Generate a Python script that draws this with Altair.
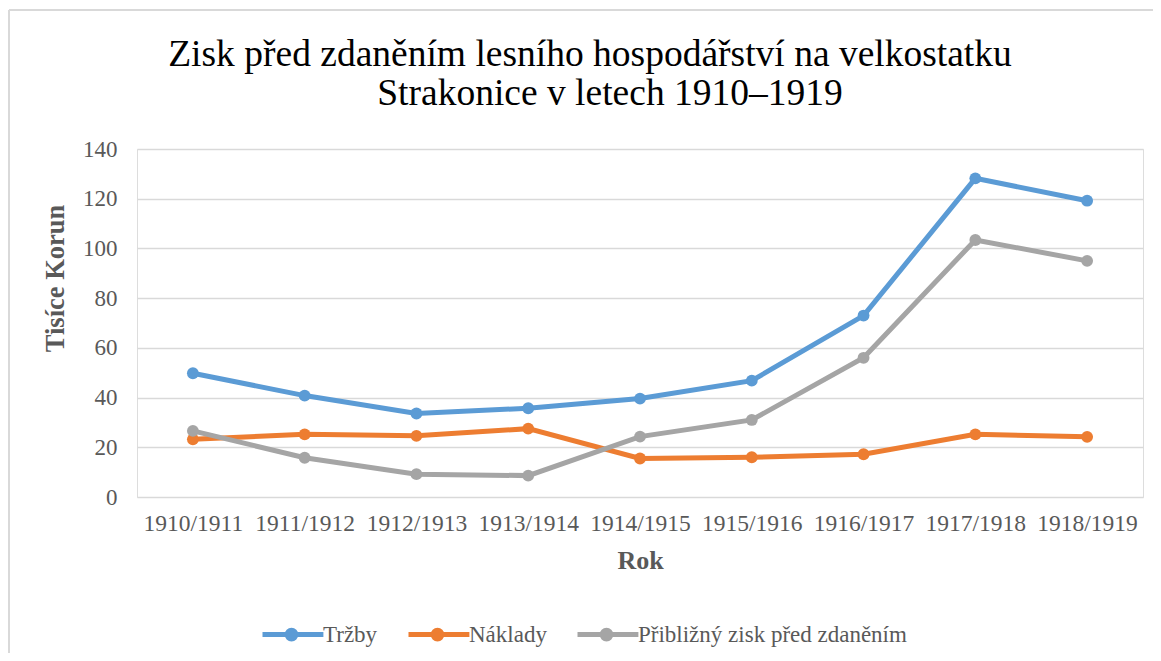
import altair as alt
import pandas as pd

years = ["1910/1911", "1911/1912", "1912/1913", "1913/1914", "1914/1915",
         "1915/1916", "1916/1917", "1917/1918", "1918/1919"]
trzby = [49.8, 40.8, 33.6, 35.7, 39.6, 46.8, 73.0, 128.2, 119.2]
naklady = [23.2, 25.2, 24.6, 27.5, 15.5, 16.0, 17.2, 25.2, 24.2]
zisk = [26.6, 15.8, 9.2, 8.6, 24.3, 31.0, 56.0, 103.4, 95.0]

series_names = ["Tržby", "Náklady", "Přibližný zisk před zdaněním"]
series_colors = ["#5B9BD5", "#ED7D31", "#A5A5A5"]
y_ticks = [0, 20, 40, 60, 80, 100, 120, 140]
title_lines = ["Zisk před zdaněním lesního hospodářství na velkostatku",
               "Strakonice v letech 1910–1919"]

rows = []
for name, vals in zip(series_names, [trzby, naklady, zisk]):
    for yr, v in zip(years, vals):
        rows.append({"Rok": yr, "Hodnota": v, "Řada": name, "order": series_names.index(name)})
df = pd.DataFrame(rows)

FONT = "Liberation Serif"
GREY = "#595959"

legend_path = ("M-1,0L1.1,0"
               "M0.06,0A0.06,0.06,0,1,1,-0.06,0A0.06,0.06,0,1,1,0.06,0"
               "M0.15,0A0.15,0.15,0,1,1,-0.15,0A0.15,0.15,0,1,1,0.15,0")

lines = alt.Chart(df).mark_line(
    strokeWidth=5,
    point=alt.OverlayMarkDef(filled=True, size=140, opacity=1),
).encode(
    x=alt.X("Rok:N", sort=years,
            axis=alt.Axis(title="Rok", labelAngle=0, ticks=False, domain=False, grid=False,
                          labelFont=FONT, labelFontSize=23.5, labelColor=GREY, labelPadding=14,
                          titleFont=FONT, titleFontSize=26, titleFontWeight="bold",
                          titleColor=GREY, titlePadding=13)),
    y=alt.Y("Hodnota:Q", scale=alt.Scale(domain=[0, 140], nice=False),
            axis=alt.Axis(title="Tisíce Korun", values=y_ticks, ticks=False, domain=False,
                          grid=True, gridColor="#d9d9d9", gridWidth=1.5,
                          labelFont=FONT, labelFontSize=23, labelColor=GREY, labelPadding=20,
                          titleFont=FONT, titleFontSize=26.5, titleFontWeight="bold",
                          titleColor=GREY, titleAngle=-90, titleAlign="center",
                          titleBaseline="middle", titleX=-82, titleY=129)),
    color=alt.Color("Řada:N", sort=series_names,
                    scale=alt.Scale(domain=series_names, range=series_colors),
                    legend=alt.Legend(title=None, orient="none", direction="horizontal",
                                      legendX=123, legendY=454,
                                      symbolType=legend_path, symbolSize=3364,
                                      symbolStrokeWidth=5, labelFont=FONT, labelFontSize=23,
                                      labelColor=GREY, labelOffset=0, columnPadding=20,
                                      labelLimit=500)),
    order=alt.Order("order:Q"),
)

one = alt.Data(values=[{"k": 1}])
top_rule = alt.Chart(one).mark_rule(color="#d9d9d9", strokeWidth=2).encode(
    x=alt.value(-128), x2=alt.value(1030), y=alt.value(-139))
left_rule = alt.Chart(one).mark_rule(color="#d9d9d9", strokeWidth=2).encode(
    x=alt.value(-128), y=alt.value(-139), y2=alt.value(520))

title1 = alt.Chart(one).mark_text(font=FONT, fontSize=37.5, color="black",
                                   align="center", baseline="middle").encode(
    x=alt.value(453), y=alt.value(-94), text=alt.value(title_lines[0]))
title2 = alt.Chart(one).mark_text(font=FONT, fontSize=37.5, color="black",
                                   align="center", baseline="middle").encode(
    x=alt.value(473), y=alt.value(-55), text=alt.value(title_lines[1]))

chart = alt.layer(top_rule, left_rule, title1, title2, lines).properties(
    width=1006,
    height=348,
    padding={"left": 129, "top": 141, "right": 10, "bottom": 156},
    autosize=alt.AutoSizeParams(type="none"),
).configure_view(stroke=None).configure(background="white")

chart.save("out.html", embed_options={"renderer": "svg", "actions": False})
